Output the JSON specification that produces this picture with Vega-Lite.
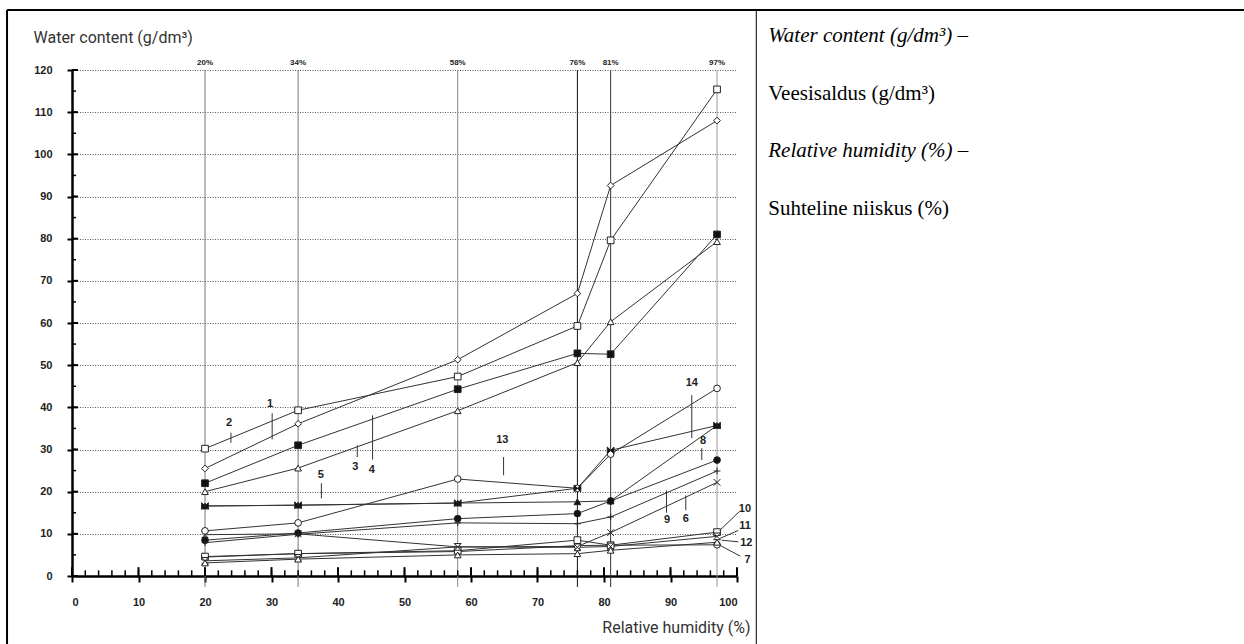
{
  "$schema": "https://vega.github.io/schema/vega-lite/v6.json",
  "width": 665,
  "height": 506,
  "autosize": "none",
  "padding": {"left": 72, "top": 70, "right": 507, "bottom": 68},
  "background": "white",
  "config": {"view": {"stroke": null}, "font": "Liberation Sans"},
  "datasets": {
    "one": [{"k": 1}],
    "series": [
      {"s": "1", "rh": 20, "w": 25.5}, {"s": "1", "rh": 34, "w": 36.1}, {"s": "1", "rh": 58, "w": 51.3}, {"s": "1", "rh": 76, "w": 67.0}, {"s": "1", "rh": 81, "w": 92.6}, {"s": "1", "rh": 97, "w": 108.0},
      {"s": "2", "rh": 20, "w": 30.2}, {"s": "2", "rh": 34, "w": 39.3}, {"s": "2", "rh": 58, "w": 47.3}, {"s": "2", "rh": 76, "w": 59.3}, {"s": "2", "rh": 81, "w": 79.6}, {"s": "2", "rh": 97, "w": 115.4},
      {"s": "3", "rh": 20, "w": 20.0}, {"s": "3", "rh": 34, "w": 25.6}, {"s": "3", "rh": 58, "w": 39.2}, {"s": "3", "rh": 76, "w": 50.6}, {"s": "3", "rh": 81, "w": 60.3}, {"s": "3", "rh": 97, "w": 79.3},
      {"s": "4", "rh": 20, "w": 22.0}, {"s": "4", "rh": 34, "w": 31.0}, {"s": "4", "rh": 58, "w": 44.3}, {"s": "4", "rh": 76, "w": 52.8}, {"s": "4", "rh": 81, "w": 52.6}, {"s": "4", "rh": 97, "w": 81.0},
      {"s": "5", "rh": 20, "w": 16.6}, {"s": "5", "rh": 34, "w": 16.8}, {"s": "5", "rh": 58, "w": 17.3}, {"s": "5", "rh": 76, "w": 17.6}, {"s": "5", "rh": 81, "w": 17.8}, {"s": "5", "rh": 97, "w": 35.7},
      {"s": "6", "rh": 20, "w": 9.8}, {"s": "6", "rh": 34, "w": 10.0}, {"s": "6", "rh": 58, "w": 6.9}, {"s": "6", "rh": 76, "w": 7.0}, {"s": "6", "rh": 81, "w": 10.3}, {"s": "6", "rh": 97, "w": 22.2},
      {"s": "7", "rh": 20, "w": 4.5}, {"s": "7", "rh": 34, "w": 5.3}, {"s": "7", "rh": 58, "w": 5.8}, {"s": "7", "rh": 76, "w": 7.2}, {"s": "7", "rh": 81, "w": 7.3}, {"s": "7", "rh": 97, "w": 7.4},
      {"s": "8", "rh": 20, "w": 8.5}, {"s": "8", "rh": 34, "w": 10.2}, {"s": "8", "rh": 58, "w": 13.6}, {"s": "8", "rh": 76, "w": 14.8}, {"s": "8", "rh": 81, "w": 17.8}, {"s": "8", "rh": 97, "w": 27.5},
      {"s": "9", "rh": 20, "w": 7.9}, {"s": "9", "rh": 34, "w": 9.9}, {"s": "9", "rh": 58, "w": 12.6}, {"s": "9", "rh": 76, "w": 12.4}, {"s": "9", "rh": 81, "w": 14.0}, {"s": "9", "rh": 97, "w": 24.9},
      {"s": "10", "rh": 20, "w": 4.6}, {"s": "10", "rh": 34, "w": 5.3}, {"s": "10", "rh": 58, "w": 6.0}, {"s": "10", "rh": 76, "w": 8.5}, {"s": "10", "rh": 81, "w": 7.3}, {"s": "10", "rh": 97, "w": 10.4},
      {"s": "11", "rh": 20, "w": 3.6}, {"s": "11", "rh": 34, "w": 4.3}, {"s": "11", "rh": 58, "w": 6.9}, {"s": "11", "rh": 76, "w": 6.8}, {"s": "11", "rh": 81, "w": 7.0}, {"s": "11", "rh": 97, "w": 9.4},
      {"s": "12", "rh": 20, "w": 3.1}, {"s": "12", "rh": 34, "w": 4.0}, {"s": "12", "rh": 58, "w": 5.0}, {"s": "12", "rh": 76, "w": 5.3}, {"s": "12", "rh": 81, "w": 6.1}, {"s": "12", "rh": 97, "w": 8.0},
      {"s": "13", "rh": 20, "w": 10.7}, {"s": "13", "rh": 34, "w": 12.6}, {"s": "13", "rh": 58, "w": 23.0}, {"s": "13", "rh": 76, "w": 20.8}, {"s": "13", "rh": 81, "w": 28.9}, {"s": "13", "rh": 97, "w": 44.5},
      {"s": "14", "rh": 20, "w": 16.6}, {"s": "14", "rh": 34, "w": 16.8}, {"s": "14", "rh": 58, "w": 17.3}, {"s": "14", "rh": 76, "w": 20.8}, {"s": "14", "rh": 81, "w": 29.8}, {"s": "14", "rh": 97, "w": 35.7}
    ],
    "rhlines": [
      {"v": 20, "lab": "20%"}, {"v": 34, "lab": "34%"}, {"v": 58, "lab": "58%"},
      {"v": 76, "lab": "76%"}, {"v": 81, "lab": "81%"}, {"v": 97, "lab": "97%"}
    ],
    "xt": [{"v":0},{"v":2},{"v":4},{"v":6},{"v":8},{"v":10},{"v":12},{"v":14},{"v":16},{"v":18},{"v":20},{"v":22},{"v":24},{"v":26},{"v":28},{"v":30},{"v":32},{"v":34},{"v":36},{"v":38},{"v":40},{"v":42},{"v":44},{"v":46},{"v":48},{"v":50},{"v":52},{"v":54},{"v":56},{"v":58},{"v":60},{"v":62},{"v":64},{"v":66},{"v":68},{"v":70},{"v":72},{"v":74},{"v":76},{"v":78},{"v":80},{"v":82},{"v":84},{"v":86},{"v":88},{"v":90},{"v":92},{"v":94},{"v":96},{"v":98},{"v":100}],
    "yt": [{"v":0},{"v":5},{"v":10},{"v":15},{"v":20},{"v":25},{"v":30},{"v":35},{"v":40},{"v":45},{"v":50},{"v":55},{"v":60},{"v":65},{"v":70},{"v":75},{"v":80},{"v":85},{"v":90},{"v":95},{"v":100},{"v":105},{"v":110},{"v":115},{"v":120}],
    "labels": [
      {"t": "1", "lx": 29.8, "ly": 40.9, "ax": 30.1, "ay": 38.6, "bx": 30.1, "by": 32.4},
      {"t": "2", "lx": 23.6, "ly": 36.3, "ax": 23.9, "ay": 34.0, "bx": 23.9, "by": 31.6},
      {"t": "3", "lx": 42.6, "ly": 25.8, "ax": 42.9, "ay": 31.0, "bx": 42.9, "by": 28.2},
      {"t": "4", "lx": 45.1, "ly": 25.1, "ax": 45.2, "ay": 38.1, "bx": 45.2, "by": 27.6},
      {"t": "5", "lx": 37.4, "ly": 24.0, "ax": 37.5, "ay": 22.0, "bx": 37.5, "by": 18.4},
      {"t": "13", "lx": 64.7, "ly": 32.3, "ax": 64.9, "ay": 28.2, "bx": 64.9, "by": 23.9},
      {"t": "14", "lx": 93.2, "ly": 45.8, "ax": 93.2, "ay": 42.9, "bx": 93.2, "by": 32.7},
      {"t": "8", "lx": 94.9, "ly": 32.0, "ax": 94.7, "ay": 30.3, "bx": 94.7, "by": 27.5},
      {"t": "9", "lx": 89.5, "ly": 13.2, "ax": 89.4, "ay": 20.3, "bx": 89.4, "by": 15.0},
      {"t": "6", "lx": 92.3, "ly": 13.4, "ax": 92.3, "ay": 19.1, "bx": 92.3, "by": 15.6},
      {"t": "10", "lx": 101.2, "ly": 16.0, "ax": 100.3, "ay": 15.2, "bx": 97.4, "by": 10.8},
      {"t": "11", "lx": 101.2, "ly": 11.9, "ax": 100.2, "ay": 10.8, "bx": 97.4, "by": 8.9},
      {"t": "12", "lx": 101.4, "ly": 7.8, "ax": 100.2, "ay": 8.1, "bx": 97.7, "by": 8.5},
      {"t": "7", "lx": 101.6, "ly": 3.8, "ax": 100.5, "ay": 4.7, "bx": 97.4, "by": 7.3}
    ]
  },
  "layer": [
    {
      "data": {"name": "series"},
      "mark": {"type": "line", "color": "#333", "strokeWidth": 1},
      "encoding": {
        "x": {"field": "rh", "type": "quantitative", "scale": {"domain": [0, 100], "nice": false},
          "axis": {"title": "Relative humidity (%)", "values": [0,10,20,30,40,50,60,70,80,90,100], "grid": false,
            "domainColor": "#000", "domainWidth": 2.5, "tickColor": "#000", "tickWidth": 2, "tickSize": 6,
            "labelFont": "Liberation Sans", "labelFontWeight": "bold", "labelFontSize": 11, "labelColor": "#222", "labelPadding": 14,
            "titleFont": "Roboto", "titleFontSize": 16, "titleFontWeight": "normal", "titleColor": "#333",
            "titleAlign": "right", "titleAnchor": null, "titleX": 678, "titleY": 56, "titleBaseline": "alphabetic"}},
        "y": {"field": "w", "type": "quantitative", "scale": {"domain": [0, 120], "nice": false},
          "axis": {"title": "Water content (g/dm³)", "values": [0,10,20,30,40,50,60,70,80,90,100,110,120],
            "grid": true, "gridDash": [1, 1.5], "gridColor": "#555", "gridWidth": 1,
            "domainColor": "#000", "domainWidth": 2.5, "tickColor": "#000", "tickWidth": 2, "tickSize": 5,
            "labelFont": "Liberation Sans", "labelFontWeight": "bold", "labelFontSize": 11, "labelColor": "#222", "labelPadding": 15,
            "titleFont": "Roboto", "titleFontSize": 16, "titleFontWeight": "normal", "titleColor": "#333",
            "titleAngle": 0, "titleAlign": "left", "titleAnchor": null, "titleX": -39, "titleY": -28, "titleBaseline": "alphabetic"}},
        "detail": {"field": "s"}
      }
    },
    {
      "data": {"name": "rhlines"},
      "mark": {"type": "rule", "strokeWidth": 1},
      "encoding": {
        "x": {"field": "v", "type": "quantitative"},
        "y": {"datum": 120},
        "y2": {"datum": -2.6},
        "color": {"field": "v", "type": "nominal", "legend": null,
          "scale": {"domain": [20, 34, 58, 76, 81, 97], "range": ["#777", "#777", "#888", "#111", "#333", "#999"]}}
      }
    },
    {
      "data": {"name": "rhlines"},
      "mark": {"type": "text", "fontSize": 8, "fontWeight": "bold", "baseline": "bottom", "dy": -3, "color": "#222"},
      "encoding": {
        "x": {"field": "v", "type": "quantitative"},
        "y": {"datum": 120},
        "text": {"field": "lab"}
      }
    },
    {
      "data": {"name": "xt"},
      "mark": {"type": "rule", "color": "#000", "strokeWidth": 1.5},
      "encoding": {"x": {"field": "v", "type": "quantitative"}, "y": {"datum": 0}, "y2": {"datum": 1.35}}
    },
    {
      "data": {"name": "xt"},
      "transform": [{"filter": "datum.v % 10 == 0"}],
      "mark": {"type": "rule", "color": "#000", "strokeWidth": 2},
      "encoding": {"x": {"field": "v", "type": "quantitative"}, "y": {"datum": 0}, "y2": {"datum": 2.1}}
    },
    {
      "data": {"name": "yt"},
      "mark": {"type": "rule", "color": "#000", "strokeWidth": 1.5},
      "encoding": {"y": {"field": "v", "type": "quantitative"}, "x": {"datum": 0}, "x2": {"datum": 0.6}}
    },
    {
      "data": {"name": "yt"},
      "transform": [{"filter": "datum.v % 10 == 0"}],
      "mark": {"type": "rule", "color": "#000", "strokeWidth": 2},
      "encoding": {"y": {"field": "v", "type": "quantitative"}, "x": {"datum": 0}, "x2": {"datum": 0.9}}
    },
    {
      "data": {"name": "series"},
      "mark": {"type": "point", "filled": true, "stroke": "#222", "strokeWidth": 1, "size": 45, "opacity": 1},
      "encoding": {
        "x": {"field": "rh", "type": "quantitative"},
        "y": {"field": "w", "type": "quantitative"},
        "shape": {"field": "s", "type": "nominal", "legend": null,
          "scale": {"domain": ["1","2","3","4","5","6","7","8","9","10","11","12","13","14"],
            "range": ["diamond", "square", "triangle-up", "square", "triangle-up", "M-1,-1L1,1M-1,1L1,-1", "circle", "circle", "M-1,0L1,0M0,-1L0,1", "square", "M-1,-1L1,-1L-1,1L1,1Z", "triangle-up", "circle", "M-1,-1L1,1L1,-1L-1,1Z"]}},
        "fill": {"field": "s", "type": "nominal", "legend": null,
          "scale": {"domain": ["1","2","3","4","5","6","7","8","9","10","11","12","13","14"],
            "range": ["white", "white", "white", "#111", "#111", "white", "white", "#111", "white", "white", "white", "white", "white", "#111"]}}
      }
    },
    {
      "data": {"name": "labels"},
      "mark": {"type": "rule", "color": "#333", "strokeWidth": 1},
      "encoding": {
        "x": {"field": "ax", "type": "quantitative"}, "y": {"field": "ay", "type": "quantitative"},
        "x2": {"field": "bx"}, "y2": {"field": "by"}
      }
    },
    {
      "data": {"name": "labels"},
      "mark": {"type": "text", "fontSize": 11, "fontWeight": "bold", "color": "#222", "baseline": "middle", "align": "center"},
      "encoding": {
        "x": {"field": "lx", "type": "quantitative"}, "y": {"field": "ly", "type": "quantitative"},
        "text": {"field": "t"}
      }
    },
    {
      "data": {"name": "one"},
      "mark": {"type": "rule", "color": "#000", "strokeWidth": 2},
      "encoding": {"x": {"datum": -9.77}, "x2": {"datum": 176.5}, "y": {"datum": 134.2}}
    },
    {
      "data": {"name": "one"},
      "mark": {"type": "rule", "color": "#000", "strokeWidth": 2},
      "encoding": {"x": {"datum": -9.77}, "y": {"datum": 134.2}, "y2": {"datum": -16.5}}
    },
    {
      "data": {"name": "one"},
      "mark": {"type": "rule", "color": "#000", "strokeWidth": 1},
      "encoding": {"x": {"datum": 102.9}, "y": {"datum": 134.2}, "y2": {"datum": -16.5}}
    },
    {
      "data": {"name": "one"},
      "mark": {"type": "text", "text": "Water content (g/dm³) –", "font": "Liberation Serif", "fontStyle": "italic", "fontSize": 21, "align": "left", "baseline": "alphabetic", "color": "#000"},
      "encoding": {"x": {"datum": 104.7}, "y": {"datum": 126.6}}
    },
    {
      "data": {"name": "one"},
      "mark": {"type": "text", "text": "Veesisaldus (g/dm³)", "font": "Liberation Serif", "fontSize": 21, "align": "left", "baseline": "alphabetic", "color": "#000"},
      "encoding": {"x": {"datum": 104.7}, "y": {"datum": 112.9}}
    },
    {
      "data": {"name": "one"},
      "mark": {"type": "text", "text": "Relative humidity (%) –", "font": "Liberation Serif", "fontStyle": "italic", "fontSize": 21, "align": "left", "baseline": "alphabetic", "color": "#000"},
      "encoding": {"x": {"datum": 104.7}, "y": {"datum": 99.4}}
    },
    {
      "data": {"name": "one"},
      "mark": {"type": "text", "text": "Suhteline niiskus (%)", "font": "Liberation Serif", "fontSize": 21, "align": "left", "baseline": "alphabetic", "color": "#000"},
      "encoding": {"x": {"datum": 104.7}, "y": {"datum": 85.6}}
    }
  ]
}
